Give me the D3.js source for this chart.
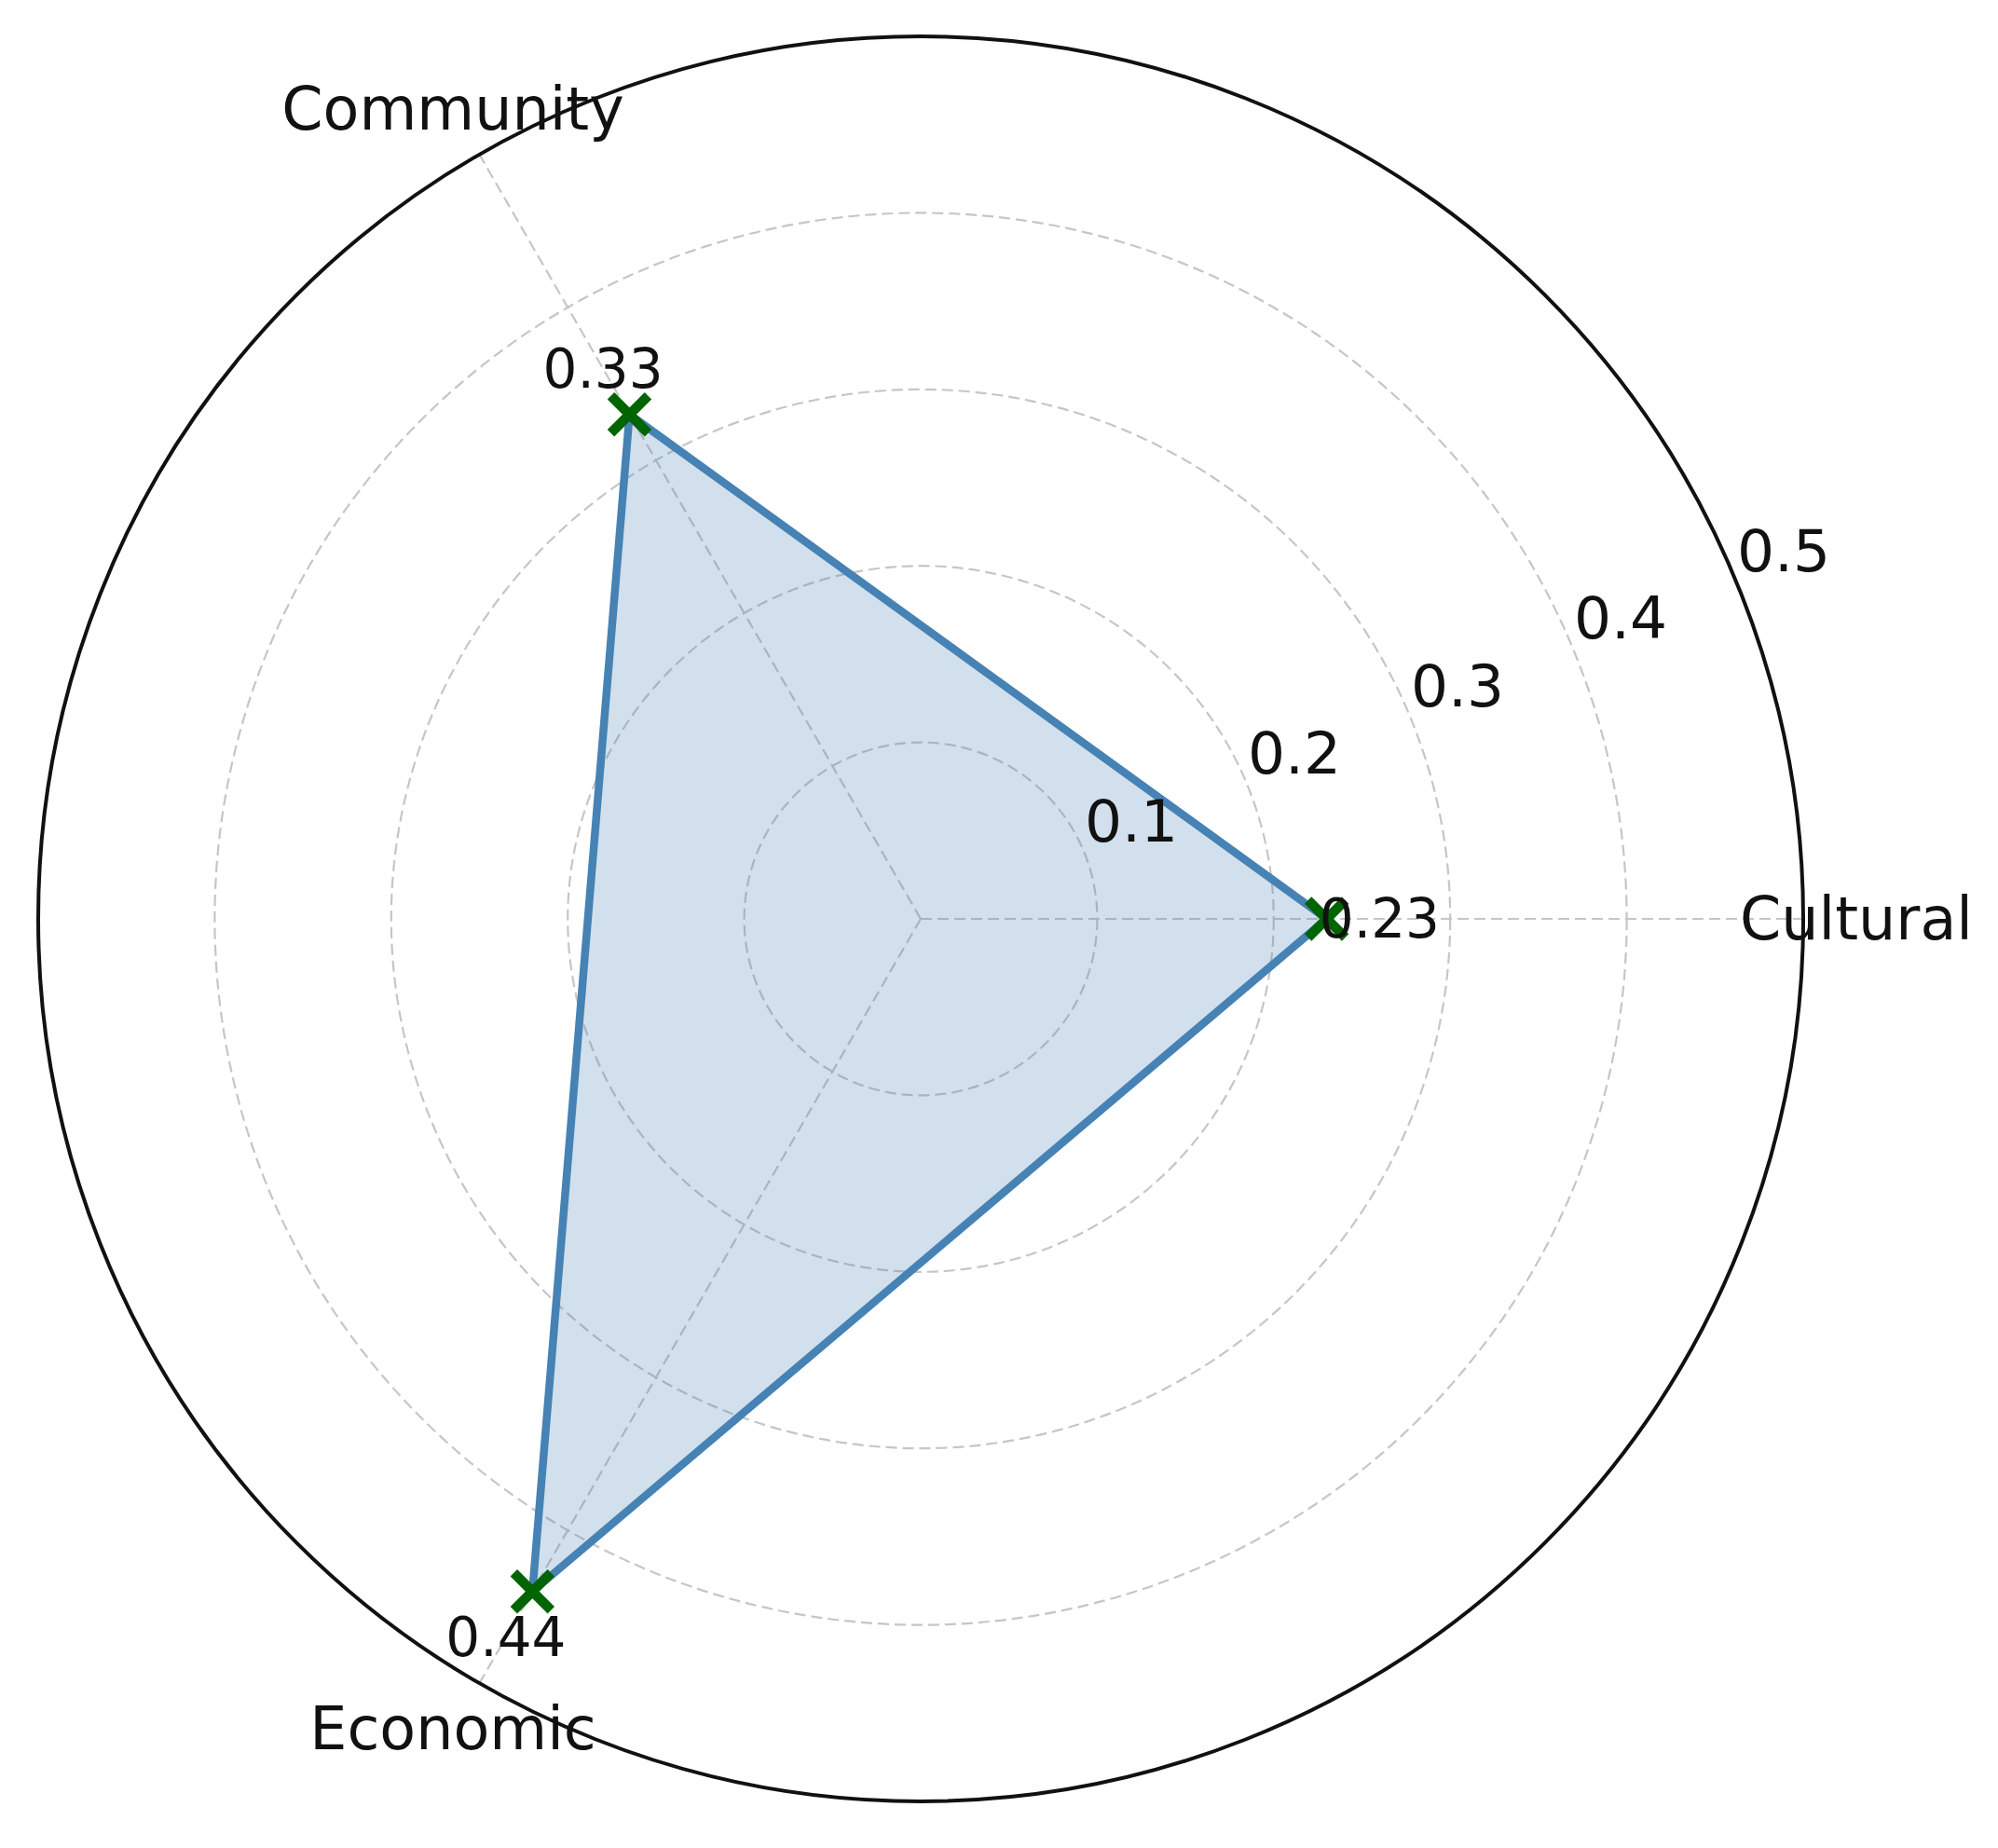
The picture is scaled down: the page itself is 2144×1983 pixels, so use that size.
<!DOCTYPE html>
<html>
<head>
<meta charset="utf-8">
<script src="https://cdn.jsdelivr.net/npm/d3@7"></script>
<style>
  html, body { margin: 0; padding: 0; background: #ffffff; }
  svg { display: block; }
  text { font-family: "DejaVu Sans", sans-serif; fill: #111; }
</style>
</head>
<body>
<svg id="chart" width="2144" height="1983"></svg>
<script>
// ---- data ----
const categories = ["Cultural", "Community", "Economic"];
const values = [0.23, 0.33, 0.44];
const valueLabels = ["0.23", "0.33", "0.44"];
const rTicks = [0.1, 0.2, 0.3, 0.4, 0.5];
const rTickLabels = ["0.1", "0.2", "0.3", "0.4", "0.5"];
const rMax = 0.5;

// ---- layout ----
const cx = 988, cy = 986, R = 947;
const svg = d3.select("#chart");
const g = svg.append("g").attr("transform", `translate(${cx},${cy})`);

const r = d3.scaleLinear().domain([0, rMax]).range([0, R]);
// angle in degrees, counterclockwise from east (matplotlib polar)
const angle = d3.scalePoint().domain(categories).range([0, 360 * (categories.length - 1) / categories.length]);
const px = (cat, v) => r(v) * Math.cos(angle(cat) * Math.PI / 180);
const py = (cat, v) => -r(v) * Math.sin(angle(cat) * Math.PI / 180);

// ---- grid ----
const gridColor = "#c6c6c6";
g.selectAll("circle.grid").data(rTicks.filter(t => t < rMax)).enter()
  .append("circle").attr("class", "grid")
  .attr("r", d => r(d)).attr("fill", "none")
  .attr("stroke", gridColor).attr("stroke-width", 2.2)
  .attr("stroke-dasharray", "12,6");

g.selectAll("line.spoke").data(categories).enter()
  .append("line").attr("class", "spoke")
  .attr("x1", 0).attr("y1", 0)
  .attr("x2", d => px(d, rMax)).attr("y2", d => py(d, rMax))
  .attr("stroke", gridColor).attr("stroke-width", 2.2)
  .attr("stroke-dasharray", "12,6");

// ---- data polygon ----
const pts = categories.map((c, i) => [px(c, values[i]), py(c, values[i])]);
g.append("path")
  .attr("d", d3.line().curve(d3.curveLinearClosed)(pts))
  .attr("fill", "steelblue").attr("fill-opacity", 0.25)
  .attr("stroke", "steelblue").attr("stroke-width", 8.5)
  .attr("stroke-linejoin", "miter");

// ---- outer circle ----
g.append("circle").attr("r", r(rMax)).attr("fill", "none")
  .attr("stroke", "#111").attr("stroke-width", 4);

// ---- markers ----
const h = 20;
const mk = g.selectAll("g.mk").data(categories).enter().append("g").attr("class", "mk")
  .attr("transform", (c, i) => `translate(${px(c, values[i])},${py(c, values[i])})`);
mk.append("path")
  .attr("d", `M${-h},${-h}L${h},${h}M${-h},${h}L${h},${-h}`)
  .attr("stroke", "darkgreen").attr("stroke-width", 10.5).attr("fill", "none");

// ---- value labels ----
g.selectAll("text.val").data(categories).enter().append("text").attr("class", "val")
  .attr("x", (c, i) => px(c, values[i] + 0.03))
  .attr("y", (c, i) => py(c, values[i] + 0.03))
  .attr("text-anchor", "middle").attr("dominant-baseline", "central")
  .attr("font-size", 58)
  .text((c, i) => valueLabels[i]);

// ---- radial tick labels at 22.5 deg ----
const la = 22.5 * Math.PI / 180;
g.selectAll("text.rt").data(rTicks).enter().append("text").attr("class", "rt")
  .attr("x", d => r(d) * Math.cos(la) + 1)
  .attr("y", d => -r(d) * Math.sin(la) - 11)
  .attr("text-anchor", "start")
  .attr("font-size", 63)
  .text((d, i) => rTickLabels[i]);

// ---- category labels ----
g.selectAll("text.cat").data(categories).enter().append("text").attr("class", "cat")
  .attr("x", c => (R + 57) * Math.cos(angle(c) * Math.PI / 180))
  .attr("y", c => -(R + 57) * Math.sin(angle(c) * Math.PI / 180))
  .attr("text-anchor", "middle").attr("dominant-baseline", "central")
  .attr("font-size", 63.5)
  .text(c => c);
</script>
</body>
</html>
